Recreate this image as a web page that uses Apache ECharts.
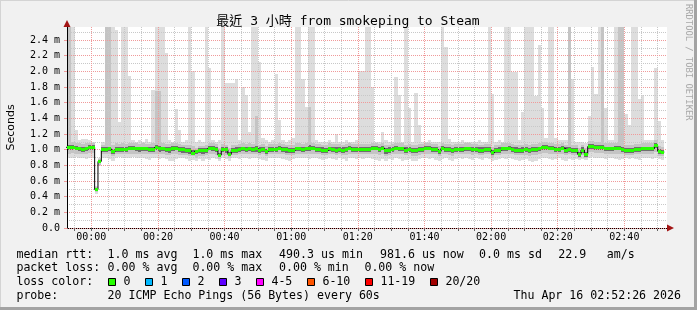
<!DOCTYPE html>
<html>
<head>
<meta charset="utf-8">
<script src="https://cdn.jsdelivr.net/npm/echarts@6/dist/echarts.min.js"></script>
<style>
html,body{margin:0;padding:0;background:#f1f1f1;overflow:hidden;}
#chart{width:697px;height:310px;}
</style>
</head>
<body>
<div id="chart"></div>
<script>
// ================= DATA (milliseconds, one bin per minute) =================
const binStart = -8; // first bin starts at 23:52 (minutes relative to 00:00)
const med = [
1.03,1.03,1.03,1.02,1.01,1.0,1.01,1.03,1.03,0.49,
0.85,1.0,1.0,1.01,0.98,1.0,1.0,1.0,1.0,1.02,
1.02,1.01,1.01,1.01,1.01,1.0,1.0,1.03,1.01,1.01,
1.0,1.0,1.02,1.02,1.0,1.0,0.99,0.985,0.95,0.98,
0.99,0.99,0.99,1.02,1.02,1.0,0.93,1.0,1.0,0.94,
0.99,0.995,1.0,1.01,1.0,1.01,1.0,1.01,0.995,1.0,
0.98,1.0,1.005,1.005,1.02,1.0,1.0,0.99,0.99,1.01,
1.01,1.0,1.01,1.02,1.02,1.0,1.0,0.995,0.99,1.01,
1.0,0.995,1.0,0.995,1.0,1.02,1.0,1.0,1.0,1.0,
1.0,1.0,1.02,1.02,1.0,1.02,0.99,0.995,1.0,1.02,
1.01,1.01,0.995,1.0,0.99,0.99,1.0,1.0,1.02,1.02,
1.0,1.0,0.98,1.02,1.0,1.0,0.99,1.0,1.0,1.0,
1.01,1.01,1.0,1.0,0.995,0.995,1.0,1.0,0.96,0.99,
0.995,1.01,1.01,1.02,1.0,0.995,0.99,0.995,1.0,0.99,
1.0,1.0,1.01,1.03,1.03,1.02,1.02,1.0,1.0,1.02,
0.995,1.0,0.99,0.99,0.94,0.995,0.94,1.04,1.04,1.03,
1.03,1.03,1.01,1.01,1.01,1.02,1.02,1.0,0.99,0.99,
0.99,1.0,1.0,1.01,1.01,1.01,1.01,1.05,0.98,0.97];
const lo = [
0.9,0.89,0.9,0.91,0.9,0.89,0.88,0.9,0.9,0.44,
0.79,0.9,0.9,0.88,0.86,0.9,0.91,0.89,0.9,0.9,
0.91,0.9,0.89,0.9,0.88,0.87,0.9,0.89,0.88,0.9,
0.88,0.85,0.85,0.88,0.89,0.9,0.88,0.86,0.87,0.85,
0.88,0.86,0.88,0.87,0.89,0.88,0.85,0.89,0.88,0.86,
0.89,0.9,0.88,0.9,0.89,0.88,0.9,0.89,0.88,0.87,
0.85,0.89,0.9,0.89,0.9,0.88,0.87,0.86,0.88,0.9,
0.9,0.89,0.9,0.88,0.89,0.9,0.88,0.87,0.88,0.89,
0.88,0.87,0.89,0.88,0.86,0.89,0.9,0.88,0.89,0.88,
0.89,0.9,0.88,0.87,0.86,0.88,0.85,0.88,0.87,0.89,
0.88,0.86,0.87,0.88,0.86,0.85,0.88,0.89,0.9,0.88,
0.89,0.87,0.86,0.88,0.89,0.87,0.86,0.88,0.89,0.88,
0.89,0.88,0.87,0.89,0.88,0.87,0.89,0.88,0.86,0.87,
0.88,0.89,0.88,0.9,0.88,0.87,0.86,0.87,0.88,0.86,
0.84,0.86,0.88,0.89,0.9,0.88,0.87,0.88,0.89,0.87,
0.86,0.88,0.87,0.88,0.87,0.88,0.87,0.9,0.91,0.89,
0.9,0.89,0.88,0.89,0.9,0.88,0.87,0.88,0.89,0.88,
0.89,0.88,0.87,0.89,0.9,0.89,0.88,0.89,0.88,0.87];
const lo2 = [
0.96,0.95,0.96,0.95,0.95,0.94,0.95,0.96,0.96,0.46,
0.81,0.94,0.94,0.94,0.92,0.94,0.94,0.94,0.94,0.95,
0.95,0.95,0.94,0.95,0.94,0.94,0.94,0.95,0.94,0.94,
0.93,0.93,0.94,0.95,0.93,0.93,0.93,0.92,0.92,0.89,
0.92,0.92,0.93,0.94,0.94,0.93,0.88,0.93,0.93,0.89,
0.93,0.93,0.94,0.95,0.94,0.94,0.94,0.94,0.93,0.94,
0.92,0.94,0.94,0.94,0.95,0.94,0.93,0.93,0.93,0.94,
0.95,0.94,0.95,0.94,0.95,0.94,0.94,0.93,0.93,0.94,
0.94,0.93,0.94,0.93,0.93,0.95,0.94,0.94,0.94,0.94,
0.94,0.94,0.95,0.95,0.93,0.95,0.92,0.93,0.94,0.95,
0.94,0.94,0.93,0.94,0.92,0.92,0.93,0.94,0.95,0.95,
0.94,0.94,0.92,0.95,0.94,0.93,0.92,0.94,0.94,0.94,
0.94,0.94,0.93,0.94,0.93,0.93,0.94,0.94,0.9,0.93,
0.93,0.94,0.94,0.95,0.94,0.93,0.93,0.93,0.93,0.92,
0.93,0.93,0.94,0.96,0.96,0.95,0.95,0.94,0.94,0.95,
0.93,0.94,0.93,0.93,0.89,0.93,0.89,0.97,0.97,0.96,
0.96,0.96,0.95,0.95,0.95,0.95,0.95,0.94,0.93,0.93,
0.93,0.94,0.94,0.95,0.95,0.95,0.95,0.97,0.92,0.92];
const q1 = [
1.0,0.99,1.0,0.99,0.98,0.97,0.98,1.0,1.0,0.47,
0.83,0.97,0.97,0.98,0.95,0.97,0.97,0.97,0.97,0.99,
0.99,0.98,0.97,0.98,0.98,0.97,0.97,0.99,0.97,0.98,
0.97,0.96,0.98,0.99,0.97,0.96,0.96,0.95,0.93,0.94,
0.96,0.95,0.96,0.99,0.98,0.97,0.91,0.97,0.96,0.92,
0.96,0.96,0.97,0.98,0.97,0.98,0.97,0.97,0.96,0.97,
0.95,0.97,0.97,0.97,0.99,0.97,0.96,0.96,0.96,0.98,
0.98,0.97,0.98,0.98,0.99,0.97,0.97,0.96,0.96,0.98,
0.97,0.96,0.97,0.96,0.97,0.99,0.97,0.97,0.97,0.97,
0.97,0.97,0.99,0.99,0.97,0.99,0.95,0.96,0.97,0.99,
0.98,0.98,0.96,0.97,0.96,0.96,0.97,0.97,0.99,0.99,
0.97,0.97,0.95,0.99,0.97,0.97,0.96,0.97,0.97,0.97,
0.98,0.98,0.97,0.97,0.96,0.96,0.97,0.97,0.93,0.96,
0.96,0.98,0.98,0.99,0.97,0.96,0.96,0.96,0.97,0.96,
0.97,0.97,0.98,1.0,1.0,0.99,0.99,0.97,0.97,0.99,
0.96,0.97,0.96,0.96,0.91,0.96,0.91,1.01,1.01,1.0,
1.0,1.0,0.98,0.98,0.98,0.99,0.99,0.97,0.96,0.96,
0.96,0.97,0.97,0.98,0.98,0.98,0.98,1.02,0.95,0.94];
const q3 = [
1.06,1.06,1.06,1.05,1.04,1.03,1.04,1.06,1.06,0.5,
0.87,1.03,1.04,1.04,1.01,1.03,1.03,1.03,1.03,1.05,
1.05,1.04,1.04,1.04,1.04,1.03,1.04,1.06,1.05,1.04,
1.03,1.03,1.05,1.05,1.03,1.03,1.02,1.02,0.99,1.0,
1.02,1.02,1.02,1.05,1.05,1.03,0.96,1.03,1.03,0.97,
1.02,1.03,1.03,1.04,1.03,1.04,1.03,1.05,1.03,1.03,
1.01,1.03,1.04,1.04,1.05,1.03,1.03,1.02,1.02,1.04,
1.04,1.03,1.04,1.06,1.05,1.03,1.03,1.03,1.02,1.04,
1.03,1.03,1.03,1.03,1.03,1.05,1.03,1.03,1.03,1.03,
1.03,1.03,1.05,1.05,1.03,1.05,1.02,1.03,1.03,1.05,
1.04,1.04,1.03,1.03,1.02,1.02,1.03,1.03,1.05,1.05,
1.03,1.03,1.01,1.05,1.03,1.03,1.02,1.03,1.03,1.03,
1.04,1.04,1.03,1.03,1.03,1.03,1.03,1.03,0.99,1.02,
1.03,1.04,1.04,1.05,1.03,1.03,1.02,1.03,1.03,1.02,
1.03,1.03,1.04,1.06,1.06,1.05,1.05,1.03,1.03,1.05,
1.03,1.04,1.02,1.02,0.97,1.03,0.97,1.07,1.07,1.06,
1.06,1.06,1.04,1.04,1.04,1.05,1.05,1.03,1.02,1.02,
1.02,1.03,1.03,1.04,1.04,1.04,1.04,1.08,1.01,1.0];
const hi2 = [
1.09,3.0,1.1,1.08,1.08,1.07,1.08,1.09,1.09,0.52,
0.88,1.06,3.0,3.0,1.06,1.08,1.07,1.08,1.07,1.09,
1.08,1.08,1.07,1.08,1.07,1.07,1.08,1.75,1.75,1.09,
1.07,1.07,1.08,1.08,1.07,1.06,1.06,1.06,1.05,1.02,
1.05,1.05,1.06,1.08,1.08,1.07,1.02,1.07,1.06,1.02,
1.06,1.06,1.07,1.08,1.07,1.08,1.07,1.43,1.06,1.07,
1.05,1.07,1.07,1.07,1.09,1.07,1.06,1.06,1.06,1.08,
1.08,1.07,1.08,1.54,1.08,1.07,1.07,1.06,1.06,1.08,
1.07,1.07,1.07,1.06,1.07,1.09,1.07,1.07,1.07,1.07,
1.07,1.07,1.09,1.09,1.07,1.09,1.06,1.06,1.07,1.09,
1.08,1.08,1.06,1.07,1.06,1.06,1.07,1.07,1.09,1.09,
1.07,1.07,1.05,1.09,1.07,1.07,1.06,1.07,1.07,1.07,
1.08,1.08,1.07,1.07,1.06,1.06,1.07,1.07,1.03,1.06,
1.06,1.08,1.08,1.09,1.07,1.06,1.06,1.06,1.07,1.06,
1.07,1.07,1.08,1.1,1.1,1.09,1.09,1.07,1.07,1.09,
1.06,3.0,1.06,1.06,1.02,1.06,1.02,1.11,1.11,1.1,
1.1,3.0,1.08,1.08,1.08,1.09,3.0,3.0,1.06,1.06,
1.06,1.07,1.07,1.08,1.08,1.08,1.08,1.12,1.05,1.04];
const hi = [
1.15,3,3,1.25,1.12,1.13,1.14,1.12,1.1,0.54,
0.9,1.1,3,3,3,2.53,1.35,3,3,1.94,
1.12,1.1,1.12,1.1,1.13,1.1,1.76,3,3,3,
2.24,1.12,1.1,1.52,1.25,1.1,1.12,3,2.0,1.1,
1.12,1.1,3,2.04,1.12,1.1,1.12,3,1.85,1.85,
1.85,1.9,1.12,1.8,1.7,1.22,3,3,2.12,1.15,
1.12,1.1,1.12,1.96,1.38,1.12,1.1,1.12,1.15,3,
3,1.9,1.55,3,3,1.12,1.1,1.1,1.1,1.12,
1.1,1.2,1.1,1.1,1.12,1.1,1.1,1.12,2.0,2.0,
3,3,1.8,1.1,1.1,1.23,1.12,1.1,1.1,1.93,
1.7,1.1,3,1.53,1.1,1.72,1.31,1.1,1.1,1.12,
1.1,1.1,1.1,3,2.31,1.14,1.1,1.1,1.1,1.12,
1.1,1.1,1.1,1.1,1.12,1.1,1.1,3,1.71,1.1,
1.12,1.1,3,3,1.99,1.99,1.12,1.48,3,3,
3,1.69,2.34,1.53,1.15,3,3,1.15,1.12,1.12,
1.12,3,1.9,1.1,1.1,1.1,1.08,1.43,2.05,1.71,
3,3,1.53,1.12,1.12,3,3,3,1.45,1.32,
3,3,1.65,1.7,1.12,1.12,1.12,2.04,1.37,1.12];

// axis / tick labels
const majorTickMinutes = [0, 20, 40, 60, 80, 100, 120, 140, 160];
const xTickLabels = ['00:00','00:20','00:40','01:00','01:20','01:40','02:00','02:20','02:40'];
const yMaxMs = 2.566;

// texts
const titleText = '最近 3 小時 from smokeping to Steam';
const yName = 'Seconds';
const rttRow = ['median rtt:', '1.0 ms avg', '1.0 ms max', '490.3 us min', '981.6 us now', '0.0 ms sd', '22.9', 'am/s'];
const lossRow = ['packet loss:', '0.00 % avg', '0.00 % max', '0.00 % min', '0.00 % now'];
const lossLabels = ['0','1','2','3','4-5','6-10','11-19','20/20'];
const lossColors = ['#26ff00','#00b8ff','#0059ff','#5e00ff','#ff00ff','#ff5500','#ff0000','#a10000'];
const probeRow = ['probe:', '20 ICMP Echo Pings (56 Bytes) every 60s'];
const stampText = 'Thu Apr 16 02:52:26 2026';
const sideText = 'RRDTOOL / TOBI OETIKER';

// ================= BUILD =================
const N = med.length;
const rows = [];
for (let k = 0; k < N; k++) rows.push([binStart + k, lo[k], lo2[k], q1[k], med[k], q3[k], hi2[k], hi[k]]);
const stepPts = rows.map(r => [r[0], r[4]]);
stepPts.push([binStart + N, med[N - 1]]);

const minorTickMinutes = [];
for (let m = -5; m <= 170; m += 5) if (m % 20 !== 0) minorTickMinutes.push(m);

const MONO = "'DejaVu Sans Mono', 'Liberation Mono', monospace";
const TITLEFONT = "'DejaVu Sans Mono', 'Noto Sans CJK TC', 'Noto Sans CJK SC', monospace";

function clampRect(api, cs, t, v0, v1, color) {
  const a = api.coord([t, v0]);
  const b = api.coord([t + 1, v1]);
  const x0 = Math.max(Math.round(a[0]), cs.x);
  const x1 = Math.min(Math.round(b[0]), cs.x + cs.width);
  const yTop = Math.max(Math.round(b[1]), cs.y);
  const yBot = Math.min(Math.round(a[1]), cs.y + cs.height);
  if (x1 <= x0 || yBot <= yTop) return null;
  return { type: 'rect', shape: { x: x0, y: yTop, width: x1 - x0, height: yBot - yTop }, style: { fill: color } };
}

function renderSmoke(params, api) {
  const cs = params.coordSys;
  const t = api.value(0);
  const layers = [[1, 7, '#dddddd'], [2, 6, '#c4c4c4'], [3, 5, '#6e6e6e']];
  const children = [];
  layers.forEach(([a, b, c]) => {
    const r = clampRect(api, cs, t, api.value(a), api.value(b), c);
    if (r) children.push(r);
  });
  return { type: 'group', children };
}

function renderMedian(params, api) {
  const cs = params.coordSys;
  const t = api.value(0);
  const a = api.coord([t, api.value(4)]);
  const b = api.coord([t + 1, api.value(4)]);
  const x0 = Math.max(Math.round(a[0]), cs.x);
  const x1 = Math.min(Math.round(b[0]), cs.x + cs.width);
  if (x1 <= x0) return null;
  return { type: 'rect', shape: { x: x0, y: Math.round(a[1] - 1.5), width: x1 - x0, height: 3 }, style: { fill: lossColors[0] } };
}

const fmtY = v => (Math.abs(v) < 1e-9 ? '0.0' : v.toFixed(1) + ' m');
const fmtX = v => { const i = majorTickMinutes.indexOf(Math.round(v)); return i >= 0 ? xTickLabels[i] : ''; };

// ---- graphic texts ----
const g = [];
// frame
g.push({ type: 'line', shape: { x1: 0, y1: 0.5, x2: 697, y2: 0.5 }, style: { stroke: '#d4d4d4', lineWidth: 1 }, z: 50 });
g.push({ type: 'line', shape: { x1: 0.5, y1: 0, x2: 0.5, y2: 310 }, style: { stroke: '#d4d4d4', lineWidth: 1 }, z: 50 });
g.push({ type: 'line', shape: { x1: 0, y1: 308.5, x2: 697, y2: 308.5 }, style: { stroke: '#a3a3a3', lineWidth: 3 }, z: 50 });
g.push({ type: 'line', shape: { x1: 695.5, y1: 0, x2: 695.5, y2: 310 }, style: { stroke: '#a3a3a3', lineWidth: 3 }, z: 50 });

function txt(x, y, s, opts) {
  opts = opts || {};
  return {
    type: 'text', x: x, y: y, rotation: opts.rotation || 0, z: 50,
    style: {
      text: s, font: opts.font || ('11.6px ' + MONO), fill: opts.fill || '#000',
      align: opts.align || 'left', textAlign: opts.align || 'left',
      verticalAlign: 'middle', textVerticalAlign: 'middle'
    }
  };
}
g.push(txt(348, 22, titleText, { font: '13px ' + TITLEFONT, align: 'center' }));
g.push(txt(688, 4, sideText, { font: '8.8px ' + MONO, fill: '#a8a8a8', rotation: -Math.PI / 2 }));

const rttX = [16.4, 107.6, 192.4, 279.1, 380, 479.1, 558.3, 606.7];
rttRow.forEach((s, i) => g.push(txt(rttX[i], 255, s)));
const lossX = [16.4, 107.6, 192.4, 279, 364.4];
lossRow.forEach((s, i) => g.push(txt(lossX[i], 268.3, s)));
g.push(txt(16.4, 282.3, 'loss color:'));
let bx = 108.4;
lossLabels.forEach((s, i) => {
  g.push({ type: 'rect', z: 50, shape: { x: Math.round(bx) + 0.5, y: 278.5, width: 7, height: 7 }, style: { fill: lossColors[i], stroke: '#000', lineWidth: 1 } });
  g.push(txt(bx + 15, 282.3, s));
  bx = bx + 15 + s.length * 7 + 15;
});
g.push(txt(16.4, 296, probeRow[0]));
g.push(txt(107.6, 296, probeRow[1]));
g.push(txt(681, 296, stampText, { align: 'right' }));
// axis arrows
g.push({ type: 'polygon', z: 60, shape: { points: [[63.5, 27], [70.5, 27], [67, 20]] }, style: { fill: '#a31515' } });
g.push({ type: 'polygon', z: 60, shape: { points: [[667, 224.5], [667, 231.5], [674, 228]] }, style: { fill: '#a31515' } });

const chart = echarts.init(document.getElementById('chart'), null, { renderer: 'canvas' });
chart.setOption({
  animation: false,
  backgroundColor: '#f1f1f1',
  grid: { left: 67, top: 27, width: 600, height: 201, show: true, backgroundColor: '#ffffff', borderWidth: 0, containLabel: false, outerBoundsMode: 'none' },
  xAxis: [
    {
      type: 'value', min: -7.3, max: 172.8, position: 'bottom', z: 10,
      axisLine: { show: true, onZero: false, lineStyle: { color: '#000', width: 1 } },
      axisTick: { show: true, customValues: minorTickMinutes, length: 3, lineStyle: { color: '#666' } },
      axisLabel: { show: false },
      splitLine: { show: true, lineStyle: { color: '#c8c8c8', type: 'dotted', width: 1 } }
    },
    {
      type: 'value', min: -7.3, max: 172.8, position: 'bottom', z: 11,
      axisLine: { show: false, onZero: false },
      axisTick: { show: true, customValues: majorTickMinutes, length: 3, lineStyle: { color: '#666' } },
      axisLabel: { show: true, customValues: majorTickMinutes, formatter: fmtX, margin: 4, fontFamily: MONO, fontSize: 10, color: '#000' },
      splitLine: { show: true, lineStyle: { color: '#f09a9a', type: 'dotted', width: 1 } }
    }
  ],
  yAxis: [
    {
      type: 'value', min: 0, max: yMaxMs, interval: 0.2, position: 'left', z: 11,
      axisLine: { show: true, onZero: false, lineStyle: { color: '#000', width: 1 } },
      axisTick: { show: true, length: 3, lineStyle: { color: '#f09a9a' } },
      axisLabel: { formatter: fmtY, margin: 7, fontFamily: MONO, fontSize: 10, color: '#000', showMaxLabel: false },
      splitLine: { show: true, showMaxLine: false, lineStyle: { color: '#f09a9a', type: 'dotted', width: 1 } },
      name: yName, nameLocation: 'middle', nameRotate: 90, nameGap: 50,
      nameTextStyle: { fontFamily: "'DejaVu Sans', sans-serif", fontSize: 11, color: '#000' }
    },
    {
      type: 'value', min: 0, max: yMaxMs, interval: 0.1, position: 'left', z: 10,
      axisLine: { show: false, onZero: false }, axisTick: { show: false }, axisLabel: { show: false },
      splitLine: { show: true, showMaxLine: false, lineStyle: { color: '#c8c8c8', type: 'dotted', width: 1 } }
    }
  ],
  series: [
    { type: 'custom', name: 'smoke', xAxisIndex: 0, yAxisIndex: 0, z: 2, clip: true, renderItem: renderSmoke, data: rows, silent: true },
    { type: 'line', name: 'median', xAxisIndex: 0, yAxisIndex: 0, z: 20, step: 'end', showSymbol: false, symbol: 'none',
      lineStyle: { color: '#000', width: 1 }, data: stepPts, silent: true },
    { type: 'custom', name: 'medianLoss', xAxisIndex: 0, yAxisIndex: 0, z: 21, clip: true, renderItem: renderMedian, data: rows, silent: true }
  ],
  graphic: { elements: g }
});
</script>
</body>
</html>
